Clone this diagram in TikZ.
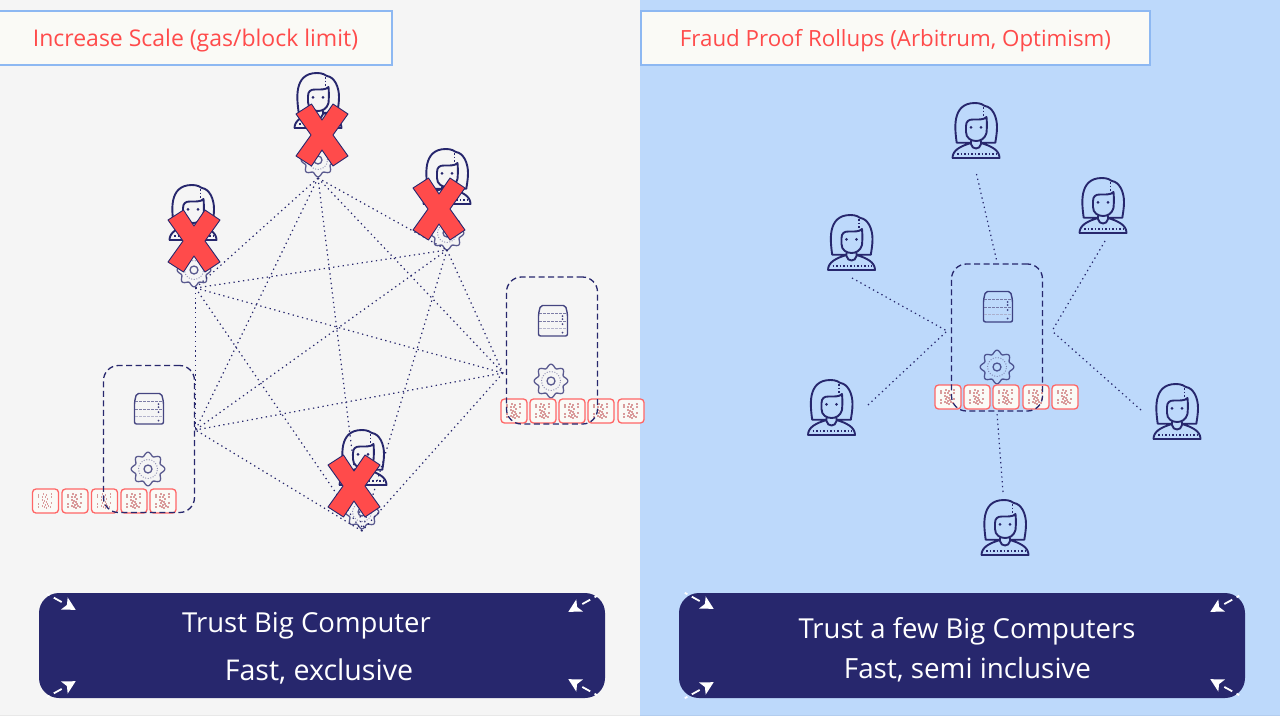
\documentclass[tikz,border=0pt]{standalone}
\usepackage{fontspec}
\setmainfont{Open Sans}
\usetikzlibrary{positioning,calc}
\definecolor{panelgray}{HTML}{F5F5F5}
\definecolor{panelblue}{HTML}{BDD9FB}
\definecolor{headline}{HTML}{8DB8F2}
\definecolor{cream}{HTML}{FAFAF6}
\definecolor{crossred}{HTML}{FF4B4B}
\definecolor{navy}{HTML}{27276D}
\definecolor{scribble}{HTML}{D99C9C}
\tikzset{
  headbox/.style={draw=headline, line width=1.5pt, fill=cream, minimum height=54pt, text height=20pt, text depth=4pt, text=crossred},
  banner/.style={fill=navy, rounded corners=20pt, minimum width=566pt, minimum height=105pt},
  bantext/.style={text=white, inner sep=0pt},
  groupbox/.style={draw=navy, dash pattern=on 6pt off 3.5pt, line width=1.3pt, rounded corners=15pt, minimum width=91pt, minimum height=147pt},
  link/.style={draw=navy, line width=1.2pt, dash pattern=on 1.3pt off 3.5pt},
  cornerarrow/.pic={
    \draw[white, line width=1.8pt] (0,0) -- (3,0) (8,0) -- (17,0);
    \fill[white] (33,0) -- (20,-7) -- (23,0) -- (20,7) -- cycle;
  },
  person/.pic={
    \draw[navy, line width=1.9pt, line join=round, line cap=round]
      (-19.3,12.7) .. controls (-21,0) and (-25,-27) .. (-1,-27) .. controls (5,-27) and (7,-25) .. (9,-24)
      .. controls (16,-23) and (21,-14) .. (21,-3) .. controls (21,3) and (20,8) .. (19.3,12.7) -- (5,12.7)
      (-19.3,12.7) -- (-5,12.7)
      (-23.5,28) -- (23.5,28) .. controls (23.5,20) and (15,16) .. (5,13)
      (-23.5,28) .. controls (-23.5,20) and (-15,16) .. (-5,13)
      (-5,11) -- (-5,14) .. controls (-4,20) and (4,20) .. (5,14) -- (5,11)
      (-10,-4) .. controls (-10,-9) and (-7,-10.5) .. (-3,-10.5) .. controls (2,-10.5) and (8,-10) .. (10.5,-13)
      .. controls (11,-7) and (11,-3) .. (10.5,3) .. controls (9,9) and (4,11) .. (0,11)
      .. controls (-5,11) and (-10,8) .. (-10,2) -- cycle;
    \fill[navy] (-5,-2.7) circle (1.5pt) (5,-2.7) circle (1.5pt);
    \draw[navy, line width=1.5pt, dash pattern=on 1.5pt off 2pt] (-19,24) -- (20,24) (7.5,-23) -- (7.5,-14);
  },
  servermark/.pic={
    \begin{scope}[opacity=.85]
    \draw[navy, line width=1.4pt, rounded corners=2pt] (-14.5,-7) -- (-12.5,-15.5) -- (12.5,-15.5) -- (14.5,-7) -- (14.5,15) -- (-14.5,15) -- cycle;
    \draw[navy!70, line width=1pt, dash pattern=on 2.5pt off 1.5pt] (-14,-7.5) -- (14,-7.5) (-14,0) -- (14,0);
    \draw[navy!40, line width=1pt, dash pattern=on 2.5pt off 1.5pt] (-14,7) -- (14,7);
    \fill[navy] (9.5,-5) circle (1pt) (9.5,-2) circle (1pt) (9.5,3) circle (1pt) (9.5,11.5) circle (1pt);
    \end{scope}
  },
  gearmark/.pic={
    \begin{scope}[opacity=.75]
    \draw[navy, line width=1.3pt] plot[domain=0:360, samples=97, smooth] (\x:{15+1.8*cos(8*\x)});
    \draw[navy!70, line width=.9pt, dash pattern=on 1pt off 1.6pt] (0,0) circle (9.5pt);
    \draw[navy, line width=1.3pt] (0,0) circle (4pt);
    \end{scope}
  },
  crossmark/.pic={
    \draw[navy, fill=crossred, line width=.9pt, line join=round] (-26,-21) -- (-10.5,-31) -- (0,-15) -- (11,-31) -- (26,-21) -- (11,0)
      -- (26,21) -- (11,31) -- (0,15) -- (-10.5,31) -- (-26,21) -- (-11,0) -- cycle;
  },
  tokenmark/.pic={
    \draw[crossred!85, fill=cream, line width=1.3pt, rounded corners=3.5pt] (-13,-12) rectangle (13,12);
    \foreach \a/\b in {-2/-7,1/-6,-3/-4,0/-4,2/-2,-3/-1,-1/0,1/1,-2/2,2/3,0/4,-3/5,3/5,-1/6,1/7,-7/-6,-7/-4,6/-7,6/-4,-7/3,-7/6,6/2,5/6}
      \fill[scribble] (\a-.8,\b-.8) rectangle (\a+.8,\b+.8);
  }
}
\begin{document}
\begin{tikzpicture}[x=1pt, y=-1pt]
    \useasboundingbox (0,0) rectangle (1280,716);
    % panels
    \fill[panelgray] (0,0) rectangle (640,716);
    \fill[panelblue] (640,0) rectangle (1280,716);
    \fill[black, opacity=.05] (0,714.5) rectangle (1280,716);

    % headers
    \node[headbox, minimum width=393pt, font=\fontsize{23}{27}\selectfont] (headl) at (195.5,38) {Increase Scale (gas/block limit)};
    \node[headbox, minimum width=509pt, font=\fontsize{22.3}{27}\selectfont] (headr) at (895.5,38) {Fraud Proof Rollups (Arbitrum, Optimism)};

    % hubs
    \coordinate (ht) at (318,178);
    \coordinate (hu) at (447,250);
    \coordinate (hl) at (195.5,288);
    \coordinate (hb) at (195.5,430);
    \coordinate (hr) at (503,373);
    \coordinate (hd) at (362,531);

    % All pairs
    \draw[link] (hl) -- (ht);
    \draw[link] (hl) -- (hu);
    \draw[link] (hl) -- (hr);
    \draw[link] (hl) -- (hd);
    \draw[link] (hl) -- (hb);
    \draw[link] (ht) -- (hu);
    \draw[link] (ht) -- (hr);
    \draw[link] (ht) -- (hd);
    \draw[link] (ht) -- (hb);
    \draw[link] (hu) -- (hr);
    \draw[link] (hu) -- (hd);
    \draw[link] (hu) -- (hb);
    \draw[link] (hr) -- (hd);
    \draw[link] (hr) -- (hb);
    \draw[link] (hd) -- (hb);

    % left people
    \pic at (318,100) {person};
    \pic at (193,212) {person};
    \pic at (447,176) {person};
    \pic at (363,457) {person};
    \pic at (318,160) {gearmark};
    \pic at (194,270) {gearmark};
    \pic at (447,233) {gearmark};
    \pic at (362,512) {gearmark};
    \pic at (322,135) {crossmark};
    \pic at (194,241) {crossmark};
    \pic at (439,209) {crossmark};
    \pic at (354,486) {crossmark};

    % left computers
    \pic at (149,409) {servermark};
    \pic at (148,469) {gearmark};
    \pic at (553,321) {servermark};
    \pic at (551,381) {gearmark};

    \pic at (45.5,501) {tokenmark};
    \pic at (75,501) {tokenmark};
    \pic at (104.5,501) {tokenmark};
    \pic at (134,501) {tokenmark};
    \pic at (163,501) {tokenmark};
    \pic at (514,411) {tokenmark};
    \pic at (543,411) {tokenmark};
    \pic at (572,411) {tokenmark};
    \pic at (601,411) {tokenmark};
    \pic at (631,411) {tokenmark};

    \node[groupbox] (boxa) at (149,439) {};
    \node[groupbox] (boxb) at (552,350.5) {};

    % right people
    \pic at (976,130) {person};
    \pic at (1103,205) {person};
    \pic at (851.5,242) {person};
    \pic at (831.5,407) {person};
    \pic at (1177,411) {person};
    \pic at (1005,527) {person};

    % right computer
    \pic at (998,307) {servermark};
    \pic at (997,367) {gearmark};
    \pic at (948,397) {tokenmark};
    \pic at (977,397) {tokenmark};
    \pic at (1006,397) {tokenmark};
    \pic at (1036,397) {tokenmark};
    \pic at (1065,397) {tokenmark};
    \node[groupbox] (boxc) at (997,337.5) {};

    % Spokes
    \coordinate (st) at (976.5,174);
    \coordinate (su) at (1105,241);
    \coordinate (sl) at (852,278);
    \coordinate (sa) at (868,405);
    \coordinate (sr) at (1141,410);
    \coordinate (sd) at (1003,492);
    \coordinate (ca) at (947,331);
    \coordinate (cb) at (1052,331);
    \coordinate (cc) at (997,413);
    \coordinate (ce) at (997,262);
    \draw[link] (st) -- (ce);
    \draw[link] (su) -- (cb);
    \draw[link] (sr) -- (cb);
    \draw[link] (sl) -- (ca);
    \draw[link] (sa) -- (ca);
    \draw[link] (sd) -- (cc);

    % banners
    \node[banner] (banl) at (322,645.5) {};
    \node[banner] (banr) at (962,645.5) {};
    \node[bantext, font=\fontsize{27.5}{32}\selectfont] (tl1) at (306.5,626) {Trust Big Computer};
    \node[bantext, font=\fontsize{28.6}{32}\selectfont] (tl2) at (319,671) {Fast, exclusive};
    \node[bantext, font=\fontsize{27.5}{32}\selectfont] (tr1) at (967,631) {Trust a few Big Computers};
    \node[bantext, font=\fontsize{27.8}{32}\selectfont] (tr2) at (967.5,669.5) {Fast, semi inclusive};

    \pic[rotate=-29] at ([shift={(8,1)}]banl.north west) {cornerarrow};
    \pic[rotate=29] at ([shift={(8,-1)}]banl.south west) {cornerarrow};
    \pic[rotate=209] at ([shift={(-8,3)}]banl.north east) {cornerarrow};
    \pic[rotate=151] at ([shift={(-8,-3)}]banl.south east) {cornerarrow};
    \pic[rotate=-29] at ([shift={(6,0)}]banr.north west) {cornerarrow};
    \pic[rotate=29] at ([shift={(6,0)}]banr.south west) {cornerarrow};
    \pic[rotate=209] at ([shift={(-6,3)}]banr.north east) {cornerarrow};
    \pic[rotate=151] at ([shift={(-6,-3)}]banr.south east) {cornerarrow};
\end{tikzpicture}
\end{document}
